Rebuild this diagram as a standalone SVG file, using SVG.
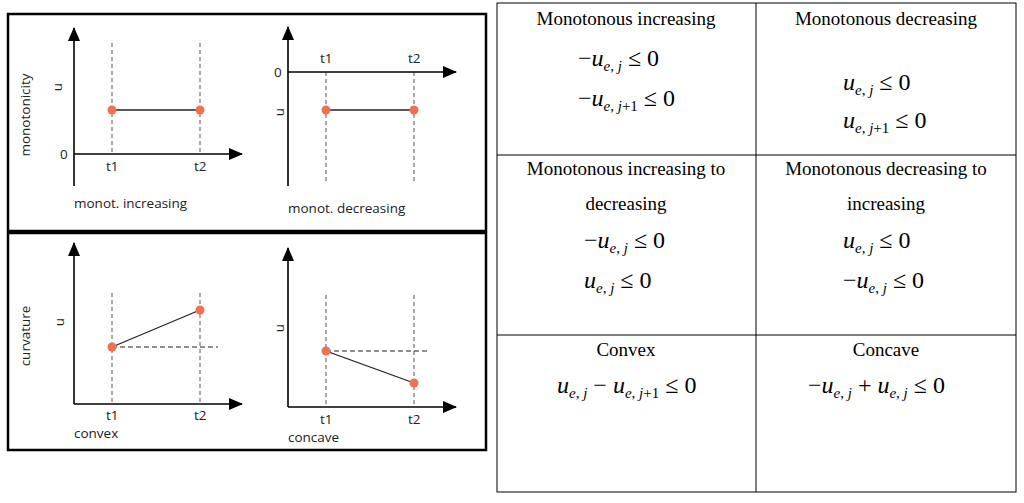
<svg xmlns="http://www.w3.org/2000/svg" width="1024" height="503" viewBox="0 0 1024 503">
<style>
.ax{stroke:#000;stroke-width:1.6;fill:none}
.ds{stroke:#555;stroke-width:1;stroke-dasharray:4,3;fill:none}
.hd{stroke:#222;stroke-width:1.2;stroke-dasharray:5,3;fill:none}
.ln{stroke:#222;stroke-width:1.3}
.pt{fill:#f07050}
.s{font-family:"Open Sans","DejaVu Sans",sans-serif;font-size:13.5px;fill:#222}
.t{font-family:"Liberation Serif",serif;font-size:19px;fill:#000;text-anchor:middle}
.m{font-family:"Liberation Serif",serif;font-size:24px;fill:#000}
.sub{font-size:15px}
.i{font-style:italic}
</style>
<defs>
<marker id="ar2" markerWidth="14" markerHeight="12" refX="13" refY="6" orient="auto" markerUnits="userSpaceOnUse"><path d="M0,0 L14,6 L0,12 Z" fill="#000"/></marker></defs>
<g id="panels" fill="none" stroke="#000" stroke-width="2.5">
<rect x="8" y="14" width="478" height="217"/><rect x="8" y="233" width="478" height="217"/>
</g>
<g id="chart-inc">
<line class="ds" x1="112" y1="43" x2="112" y2="154"/><line class="ds" x1="200" y1="43" x2="200" y2="154"/>
<line class="ax" x1="74" y1="186" x2="74" y2="28" marker-end="url(#ar2)"/><line class="ax" x1="74" y1="154" x2="242" y2="154" marker-end="url(#ar2)"/>
<line class="ln" x1="112" y1="110" x2="200" y2="110"/><circle class="pt" cx="112" cy="110" r="4.5"/><circle class="pt" cx="200" cy="110" r="4.5"/>
<text class="s" x="60" y="159">0</text><text class="s" x="106" y="171">t1</text><text class="s" x="194" y="171">t2</text>
<text class="s" transform="translate(62,87) rotate(-90)" text-anchor="middle">u</text>
<text class="s" transform="translate(30,115) rotate(-90)" text-anchor="middle">monotonicity</text>
<text class="s" x="74" y="208">monot. increasing</text>
</g>
<g id="chart-dec">
<line class="ds" x1="326" y1="72" x2="326" y2="183"/><line class="ds" x1="414" y1="72" x2="414" y2="183"/>
<line class="ax" x1="288" y1="186" x2="288" y2="27" marker-end="url(#ar2)"/><line class="ax" x1="288" y1="72" x2="456" y2="72" marker-end="url(#ar2)"/>
<line class="ln" x1="326" y1="110" x2="414" y2="110"/><circle class="pt" cx="326" cy="110" r="4.5"/><circle class="pt" cx="414" cy="110" r="4.5"/>
<text class="s" x="274" y="77">0</text><text class="s" x="320" y="63">t1</text><text class="s" x="408" y="63">t2</text>
<text class="s" transform="translate(284,112) rotate(-90)" text-anchor="middle">u</text>
<text class="s" x="288" y="213">monot. decreasing</text>
</g>
<g id="chart-convex">
<line class="ds" x1="112" y1="293" x2="112" y2="404"/><line class="ds" x1="200" y1="293" x2="200" y2="404"/>
<line class="ax" x1="74" y1="404" x2="74" y2="243" marker-end="url(#ar2)"/><line class="ax" x1="74" y1="404" x2="242" y2="404" marker-end="url(#ar2)"/>
<line class="hd" x1="112" y1="347" x2="218" y2="347"/>
<line class="ln" x1="112" y1="347" x2="200" y2="310"/><circle class="pt" cx="112" cy="347" r="4.5"/><circle class="pt" cx="200" cy="310" r="4.5"/>
<text class="s" x="106" y="420">t1</text><text class="s" x="194" y="420">t2</text>
<text class="s" transform="translate(64,322) rotate(-90)" text-anchor="middle">u</text>
<text class="s" transform="translate(30,336) rotate(-90)" text-anchor="middle">curvature</text>
<text class="s" x="74" y="438">convex</text>
</g>
<g id="chart-concave">
<line class="ds" x1="326" y1="295" x2="326" y2="407"/><line class="ds" x1="414" y1="295" x2="414" y2="407"/>
<line class="ax" x1="288" y1="407" x2="288" y2="248" marker-end="url(#ar2)"/><line class="ax" x1="288" y1="407" x2="456" y2="407" marker-end="url(#ar2)"/>
<line class="hd" x1="326" y1="351" x2="430" y2="351"/>
<line class="ln" x1="326" y1="351" x2="414" y2="383"/><circle class="pt" cx="326" cy="351" r="4.5"/><circle class="pt" cx="414" cy="383" r="4.5"/>
<text class="s" x="320" y="424">t1</text><text class="s" x="408" y="424">t2</text>
<text class="s" transform="translate(284,328) rotate(-90)" text-anchor="middle">u</text>
<text class="s" x="288" y="442">concave</text>
</g>
<g id="table" fill="none" stroke="#000" stroke-width="1">
<rect x="497" y="3" width="519" height="489"/>
<line x1="756" y1="3" x2="756" y2="492"/><line x1="497" y1="155" x2="1016" y2="155"/><line x1="497" y1="335" x2="1016" y2="335"/>
</g>
<g id="cells">
<text class="t" x="626" y="25">Monotonous increasing</text>
<text class="m" x="578" y="66">−<tspan class="i">u</tspan><tspan class="i sub" dy="5">e</tspan><tspan class="sub">, </tspan><tspan class="i sub">j</tspan><tspan dy="-5"> ≤ 0</tspan></text>
<text class="m" x="578" y="106">−<tspan class="i">u</tspan><tspan class="i sub" dy="5">e</tspan><tspan class="sub">, </tspan><tspan class="i sub">j</tspan><tspan class="sub">+1</tspan><tspan dy="-5"> ≤ 0</tspan></text>
<text class="t" x="886" y="25">Monotonous decreasing</text>
<text class="m" x="843" y="90"><tspan class="i">u</tspan><tspan class="i sub" dy="5">e</tspan><tspan class="sub">, </tspan><tspan class="i sub">j</tspan><tspan dy="-5"> ≤ 0</tspan></text>
<text class="m" x="843" y="128"><tspan class="i">u</tspan><tspan class="i sub" dy="5">e</tspan><tspan class="sub">, </tspan><tspan class="i sub">j</tspan><tspan class="sub">+1</tspan><tspan dy="-5"> ≤ 0</tspan></text>
<text class="t" x="626" y="175">Monotonous increasing to</text>
<text class="t" x="626" y="210">decreasing</text>
<text class="m" x="584" y="248">−<tspan class="i">u</tspan><tspan class="i sub" dy="5">e</tspan><tspan class="sub">, </tspan><tspan class="i sub">j</tspan><tspan dy="-5"> ≤ 0</tspan></text>
<text class="m" x="584" y="288"><tspan class="i">u</tspan><tspan class="i sub" dy="5">e</tspan><tspan class="sub">, </tspan><tspan class="i sub">j</tspan><tspan dy="-5"> ≤ 0</tspan></text>
<text class="t" x="886" y="175">Monotonous decreasing to</text>
<text class="t" x="886" y="210">increasing</text>
<text class="m" x="843" y="248"><tspan class="i">u</tspan><tspan class="i sub" dy="5">e</tspan><tspan class="sub">, </tspan><tspan class="i sub">j</tspan><tspan dy="-5"> ≤ 0</tspan></text>
<text class="m" x="843" y="288">−<tspan class="i">u</tspan><tspan class="i sub" dy="5">e</tspan><tspan class="sub">, </tspan><tspan class="i sub">j</tspan><tspan dy="-5"> ≤ 0</tspan></text>
<text class="t" x="626" y="356">Convex</text>
<text class="m" x="557" y="393"><tspan class="i">u</tspan><tspan class="i sub" dy="5">e</tspan><tspan class="sub">, </tspan><tspan class="i sub">j</tspan><tspan dy="-5"> − </tspan><tspan class="i">u</tspan><tspan class="i sub" dy="5">e</tspan><tspan class="sub">, </tspan><tspan class="i sub">j</tspan><tspan class="sub">+1</tspan><tspan dy="-5"> ≤ 0</tspan></text>
<text class="t" x="886" y="356">Concave</text>
<text class="m" x="808" y="393">−<tspan class="i">u</tspan><tspan class="i sub" dy="5">e</tspan><tspan class="sub">, </tspan><tspan class="i sub">j</tspan><tspan dy="-5"> + </tspan><tspan class="i">u</tspan><tspan class="i sub" dy="5">e</tspan><tspan class="sub">, </tspan><tspan class="i sub">j</tspan><tspan dy="-5"> ≤ 0</tspan></text>
</g>
</svg>
